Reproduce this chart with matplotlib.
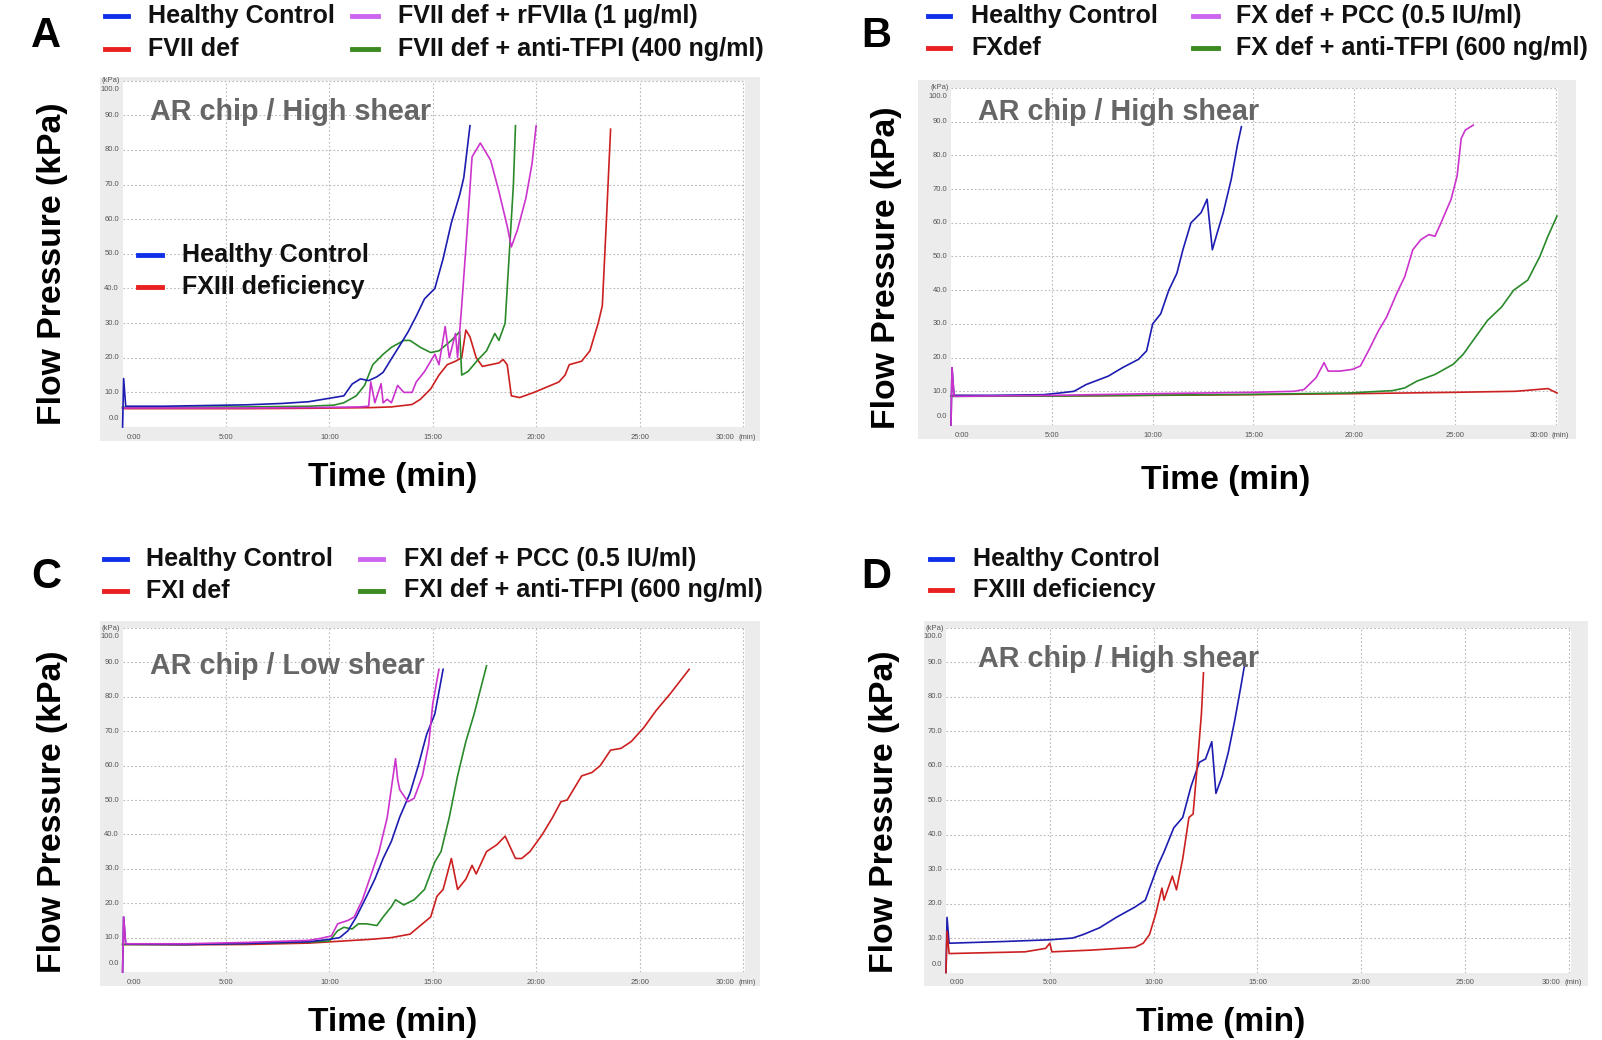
import matplotlib
matplotlib.use('Agg')
import matplotlib.pyplot as plt
from matplotlib.patches import Rectangle
from matplotlib.lines import Line2D

plt.rcParams['font.family'] = ['Liberation Sans', 'DejaVu Sans']

# ---------------- data (time in min, pressure in kPa) ----------------
# Panel A
a_hc_t = [0, 0.05, 0.15, 2, 4, 6, 7.7, 9.0, 9.8, 10.7, 11.1, 11.5, 11.9, 12.3, 12.6, 13.0, 13.4, 13.8, 14.2, 14.6, 15.1, 15.5, 15.9, 16.3, 16.5, 16.8]
a_hc_p = [0, 14, 6, 6, 6.2, 6.4, 6.8, 7.3, 8.1, 9.0, 12.4, 13.9, 13.4, 14.5, 15.8, 19.7, 23.5, 27.4, 32, 37, 40, 48.6, 59, 67, 72, 87]
a_def_t = [0, 0.1, 3, 6, 9, 12, 13.0, 14.0, 14.4, 14.9, 15.3, 15.7, 16.1, 16.4, 16.6, 16.8, 17.1, 17.4, 17.8, 18.2, 18.4, 18.6, 18.8, 19.2, 19.9, 20.5, 21.1, 21.4, 21.6, 22.2, 22.6, 23.0, 23.2, 23.4, 23.6]
a_def_p = [5.5, 5.3, 5.3, 5.3, 5.4, 5.6, 5.8, 6.5, 8, 11, 15, 18, 19, 20, 28, 26, 20, 17.5, 18, 18.5, 19.5, 18, 9, 8.5, 10, 11.5, 13, 15, 18, 19, 22, 30, 35, 60, 86]
a_f7a_t = [0, 3, 6, 9, 11.5, 11.9, 12.0, 12.2, 12.5, 12.6, 12.8, 13.0, 13.3, 13.6, 14.0, 14.2, 14.6, 15.1, 15.3, 15.6, 15.8, 16.1, 16.2, 16.4, 16.7, 16.9, 17.3, 17.8, 18.2, 18.6, 18.8, 19.1, 19.5, 19.8, 20.0]
a_f7a_p = [5.5, 5.5, 5.5, 5.6, 5.8, 6, 13, 7, 12.5, 7, 8, 7, 12, 10, 10, 13, 16, 21, 18, 29, 20, 27, 20, 35, 60, 78, 82, 77, 68, 58, 52, 57, 66, 76, 87]
a_tfpi_t = [0, 3, 6, 9, 10.2, 10.7, 11.3, 11.7, 12.1, 12.6, 13.0, 13.6, 13.9, 14.4, 14.9, 15.3, 15.9, 16.3, 16.4, 16.7, 17.2, 17.6, 18.0, 18.2, 18.5, 18.7, 18.9, 19.0]
a_tfpi_p = [5.7, 5.7, 5.8, 6, 6.3, 7, 9, 12, 18, 21, 23, 25, 25, 23, 21.5, 22, 25, 27.5, 15, 16, 19.5, 22, 27, 25, 30, 50, 70, 87]

# Panel B
b_hc_t = [0, 0.05, 0.15, 2, 4.6, 5.4, 6.1, 6.7, 7.8, 8.5, 9.3, 9.7, 10.0, 10.4, 10.8, 11.2, 11.5, 11.9, 12.4, 12.7, 12.96, 13.2, 13.5, 13.9, 14.2, 14.4]
b_hc_p = [0, 17, 8.8, 8.8, 9, 9.5, 10, 12, 14.5, 17, 19.5, 22, 30, 33, 40, 45, 52, 60, 63, 67, 52, 57, 63, 73, 83, 88.5]
b_def_t = [0, 5, 10, 15, 20, 25, 28, 29.6, 30.05]
b_def_p = [8.7, 8.6, 8.8, 9.0, 9.3, 9.7, 10.0, 10.8, 9.5]
b_pcc_t = [0, 0.05, 0.15, 5, 10, 15, 17.0, 17.5, 18.1, 18.5, 18.7, 19.3, 19.9, 20.3, 20.7, 21.2, 21.6, 22.1, 22.5, 22.9, 23.3, 23.7, 24.0, 24.3, 24.8, 25.1, 25.3, 25.5, 25.9]
b_pcc_p = [0, 17, 8.5, 8.8, 9.3, 9.7, 10, 10.5, 14, 18.5, 16, 16, 16.5, 17.5, 22, 28, 32, 39, 44, 52, 55, 56.5, 56, 60, 67, 74, 85, 87.5, 89]
b_tfpi_t = [0, 5, 11, 15, 19.7, 21.9, 22.5, 23.1, 24.0, 24.9, 25.4, 26.0, 26.6, 27.3, 27.9, 28.6, 29.2, 29.6, 30.05]
b_tfpi_p = [8.5, 8.6, 8.9, 9.1, 9.5, 10.2, 11, 13, 15, 18, 21, 26, 31, 35, 40, 43, 50, 56, 62]

# Panel C
c_hc_t = [0, 0.05, 0.15, 3, 6, 9, 10.0, 10.5, 10.9, 11.3, 11.8, 12.2, 12.6, 13.0, 13.4, 13.9, 14.3, 14.7, 15.1, 15.5]
c_hc_p = [0, 16, 8.1, 8.0, 8.3, 8.8, 9.5, 10, 12, 16, 22, 27, 33, 38, 45, 52, 60, 69, 75, 88]
c_def_t = [0, 3, 6, 9, 10.1, 12.0, 13.0, 13.9, 14.5, 14.9, 15.2, 15.5, 15.9, 16.2, 16.6, 16.9, 17.1, 17.6, 18.1, 18.5, 19.0, 19.3, 19.7, 20.3, 20.8, 21.2, 21.5, 22.2, 22.7, 23.1, 23.6, 24.1, 24.6, 25.2, 25.8, 26.5, 27.4]
c_def_p = [8, 7.9, 8, 8.4, 8.8, 9.5, 10, 11, 14, 16, 22, 24, 33, 24, 27, 31, 28.5, 35, 37, 39.5, 33, 33, 35, 40, 45, 49.5, 50, 57, 58, 60, 64.5, 65, 67, 71, 76, 81, 88]
c_pcc_t = [0, 0.05, 0.15, 3, 6, 9, 9.6, 10.1, 10.4, 10.9, 11.2, 11.6, 12.0, 12.4, 12.8, 13.2, 13.3, 13.4, 13.8, 14.1, 14.5, 14.8, 15.0, 15.3]
c_pcc_p = [0, 16, 8.2, 8.2, 8.6, 9.2, 9.8, 10.5, 14, 15, 16, 21, 28, 35, 45, 62, 56, 53, 49.5, 50.5, 57, 66, 78, 88]
c_tfpi_t = [0, 3, 6, 9, 10.0, 10.4, 10.7, 11.1, 11.4, 11.8, 12.3, 12.6, 13.0, 13.2, 13.6, 14.1, 14.6, 15.1, 15.4, 15.8, 16.2, 16.6, 17.0, 17.3, 17.6]
c_tfpi_p = [8, 8, 8.3, 8.7, 9, 12, 13, 12.5, 14, 14, 13.5, 16, 19, 21, 19.5, 21, 24, 32, 35, 45, 57, 67, 75, 82, 89]

# Panel D
d_hc_t = [0, 0.05, 0.15, 2.8, 5.0, 6.1, 6.6, 7.4, 8.2, 9.1, 9.6, 9.9, 10.2, 10.5, 10.97, 11.4, 11.8, 12.2, 12.5, 12.8, 13.0, 13.3, 13.6, 13.9, 14.2, 14.4]
d_hc_p = [0, 16, 8.5, 9, 9.5, 10, 11, 13, 16, 19, 21, 26, 31, 35, 42, 45, 54, 61, 62, 67, 52, 57, 64, 73, 83, 90]
d_def_t = [0, 0.05, 0.15, 3.8, 4.8, 5.0, 5.1, 7.0, 9.1, 9.5, 9.8, 10.1, 10.4, 10.5, 10.9, 11.1, 11.4, 11.7, 11.9, 12.1, 12.3, 12.4]
d_def_p = [0, 12, 5.5, 6, 7, 8.5, 6, 6.5, 7.3, 8.5, 11, 17, 24.5, 21, 28, 24, 33, 45, 46, 60, 75, 87]

# labels
x_ticks = [0, 5, 10, 15, 20, 25, 30]
x_tick_labels = ['0:00', '5:00', '10:00', '15:00', '20:00', '25:00', '30:00']
y_ticks = [0, 10, 20, 30, 40, 50, 60, 70, 80, 90, 100]
legend_a = ['Healthy Control', 'FVII def', 'FVII def + rFVIIa (1 µg/ml)', 'FVII def + anti-TFPI (400 ng/ml)']
legend_b = ['Healthy Control', 'FXdef', 'FX def + PCC (0.5 IU/ml)', 'FX def + anti-TFPI (600 ng/ml)']
legend_c = ['Healthy Control', 'FXI def', 'FXI def + PCC (0.5 IU/ml)', 'FXI def + anti-TFPI (600 ng/ml)']
legend_d = ['Healthy Control', 'FXIII deficiency']
inner_legend_a = ['Healthy Control', 'FXIII deficiency']
chip_labels = ['AR chip / High shear', 'AR chip / High shear', 'AR chip / Low shear', 'AR chip / High shear']

# colours
C_BLUE, C_RED, C_MAG, C_GRN = '#1c1cb0', '#cc2020', '#cc33cc', '#2a8a2a'
L_BLUE, L_RED, L_MAG, L_GRN = '#1030e8', '#e82020', '#cc66ee', '#3a8a20'

W, H = 1602, 1040
fig = plt.figure(figsize=(W / 100, H / 100), dpi=100)


def fx(px):
    return px / W


def fy(py):
    return 1 - py / H


def panel(frame, axbox, xmax, chip, chip_xy, series):
    gx0, gy0, gx1, gy1 = frame
    fig.patches.append(Rectangle((fx(gx0), fy(gy1)), fx(gx1 - gx0), (gy1 - gy0) / H,
                                 transform=fig.transFigure, facecolor='#ececec',
                                 edgecolor='none', zorder=-5))
    ax0, ay0, ax1, ay1 = axbox
    ax = fig.add_axes([fx(ax0), fy(ay1), fx(ax1 - ax0), (ay1 - ay0) / H])
    ax.set_zorder(1)
    ax.set_facecolor('white')
    ax.set_xlim(0, xmax)
    ax.set_ylim(0, 100)
    for s in ax.spines.values():
        s.set_visible(False)
    ax.set_xticks([])
    ax.set_yticks([])
    for t in x_ticks[1:]:
        ax.axvline(t, color='#b8b8b8', lw=0.8, ls=(0, (1.5, 2)), zorder=1)
    for v in y_ticks[1:]:
        ax.axhline(v, color='#b8b8b8', lw=0.8, ls=(0, (1.5, 2)), zorder=1)
    yt = ax.get_yaxis_transform()
    xt = ax.get_xaxis_transform()
    for v in y_ticks:
        off = -2.6 if v == 100 else (2.4 if v == 0 else 0)
        ax.text(-0.006, v + off, f'{v:.1f}', transform=yt, ha='right', va='center',
                fontsize=5.5, color='#555555', clip_on=False)
    ax.text(-0.004, 100, '(kPa)', transform=yt, ha='right', va='center',
            fontsize=5.5, color='#555555', clip_on=False)
    for t, lab in zip(x_ticks, x_tick_labels):
        ha = 'left' if t == 0 else ('right' if t == 30 else 'center')
        tt = t + (0.2 if t == 0 else (-0.4 if t == 30 else 0))
        ax.text(tt, -0.02, lab, transform=xt, ha=ha, va='top',
                fontsize=5.5, color='#555555', clip_on=False)
    ax.text(0.99, -0.02, '(min)', transform=ax.transAxes, ha='left', va='top',
            fontsize=5.5, color='#555555', clip_on=False)
    for t, p, c in series:
        ax.plot(t, p, color=c, lw=1.2, zorder=3, clip_on=False)
    fig.text(fx(chip_xy[0]), fy(chip_xy[1]), chip, ha='left', va='center',
             fontsize=20.7, fontweight='bold', color='#666666', zorder=5)
    return ax


def legend(items, rows_y, cols):
    # items: list of (label, colour); cols: list of (marker_x0, marker_x1, text_x)
    for i, (lab, col) in enumerate(items):
        c = cols[i // 2]
        y = rows_y[i % 2]
        fig.lines.append(Line2D([fx(c[0]), fx(c[1])], [fy(y), fy(y)], color=col, lw=3.5,
                                transform=fig.transFigure))
        fig.text(fx(c[2]), fy(y), lab, ha='left', va='center', fontsize=18.1,
                 fontweight='bold', color='#111111')


def big_labels(letter, lxy, ylab_xy, xlab_xy):
    fig.text(fx(lxy[0]), fy(lxy[1]), letter, ha='center', va='center', fontsize=30,
             fontweight='bold', color='black')
    fig.text(fx(ylab_xy[0]), fy(ylab_xy[1]), 'Flow Pressure (kPa)', ha='center', va='center',
             rotation=90, fontsize=24.3, fontweight='bold', color='black')
    fig.text(fx(xlab_xy[0]), fy(xlab_xy[1]), 'Time (min)', ha='center', va='center',
             fontsize=24.2, fontweight='bold', color='black')


# Panel A
axA = panel((100, 77, 760, 441), (122.6, 80.7, 745, 427), 30.1, chip_labels[0], (150, 112),
            [(a_def_t, a_def_p, C_RED), (a_tfpi_t, a_tfpi_p, C_GRN),
             (a_f7a_t, a_f7a_p, C_MAG), (a_hc_t, a_hc_p, C_BLUE)])
legend(list(zip(legend_a, [L_BLUE, L_RED, L_MAG, L_GRN])), [15.5, 49],
       [(105, 128, 148), (352, 378, 398)])
for lab, col, y in zip(inner_legend_a, [L_BLUE, L_RED], [255, 287]):
    fig.lines.append(Line2D([fx(138), fx(162)], [fy(y), fy(y)], color=col, lw=3.5,
                            transform=fig.transFigure, zorder=5))
    fig.text(fx(182), fy(y), lab, ha='left', va='center', fontsize=18.1,
             fontweight='bold', color='#111111', zorder=5)
big_labels('A', (46, 36), (53, 264), (393, 478))

# Panel B
axB = panel((918, 80, 1576, 439), (951, 88, 1558, 425), 30.1, chip_labels[1], (978, 112),
            [(b_def_t, b_def_p, C_RED), (b_tfpi_t, b_tfpi_p, C_GRN),
             (b_hc_t, b_hc_p, C_BLUE), (b_pcc_t, b_pcc_p, C_MAG)])
legend(list(zip(legend_b, [L_BLUE, L_RED, L_MAG, L_GRN])), [15.5, 48],
       [(928, 950, 971), (1193, 1218, 1236)])
big_labels('B', (876, 36), (887, 268), (1226, 480))

# Panel C
axC = panel((100, 621, 760, 986), (122.6, 628, 745, 972), 30.1, chip_labels[2], (150, 666),
            [(c_def_t, c_def_p, C_RED), (c_tfpi_t, c_tfpi_p, C_GRN),
             (c_hc_t, c_hc_p, C_BLUE), (c_pcc_t, c_pcc_p, C_MAG)])
legend(list(zip(legend_c, [L_BLUE, L_RED, L_MAG, L_GRN])), [559, 590.5],
       [(104, 127, 146), (360, 383, 404)])
big_labels('C', (46, 577), (53, 812), (393, 1022))

# Panel D
axD = panel((924, 621, 1588, 986), (946, 628, 1571, 972.5), 30.1, chip_labels[3], (978, 659),
            [(d_hc_t, d_hc_p, C_BLUE), (d_def_t, d_def_p, C_RED)])
legend(list(zip(legend_d, [L_BLUE, L_RED])), [559, 589.5], [(930, 952, 973)])
big_labels('D', (876, 577), (884, 812), (1221, 1022))

fig.savefig('out.png', dpi=100, facecolor='white')
